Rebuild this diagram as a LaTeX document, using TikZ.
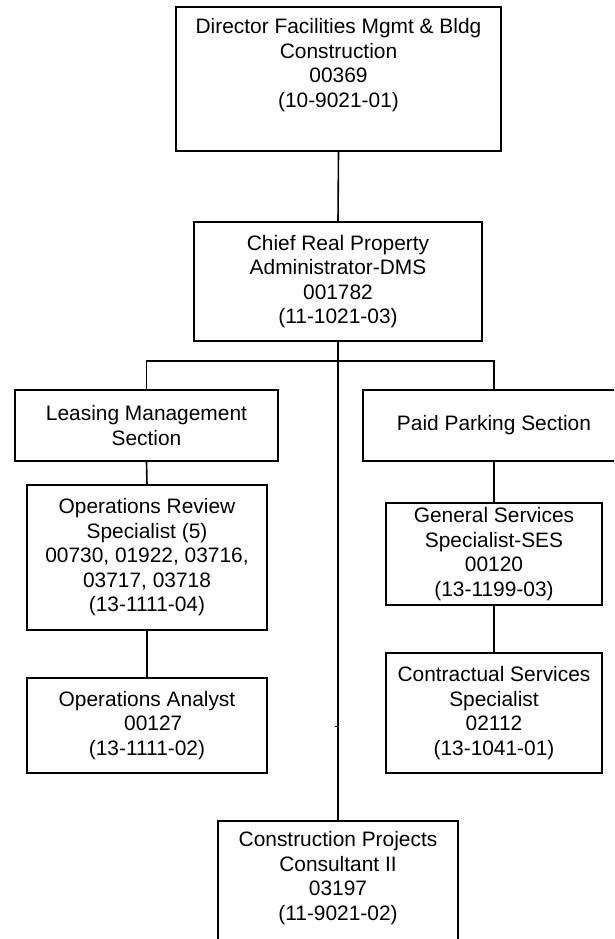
\documentclass[tikz,border=0pt]{standalone}
\usepackage{fontspec}
\setmainfont{Liberation Sans}
\begin{document}
\begin{tikzpicture}[x=1pt,y=-1pt,
  orgbox/.style={draw, line width=1.6pt, inner sep=0pt, align=center,
    font=\fontsize{20.9}{24.5}\selectfont},
  link/.style={line width=1.6pt}]
\useasboundingbox (0,0) rectangle (614,939);
\clip (0,0) rectangle (614,939);
\fill[white] (0,0) rectangle (614,939);

% positions
\node[orgbox, minimum width=325, minimum height=144] (dir) at (338.5,79)
  {Director Facilities Mgmt \& Bldg\\Construction\\00369\\(10-9021-01)\\\strut};
\node[orgbox, minimum width=288, minimum height=119] (chief) at (338,281.5)
  {Chief Real Property\\Administrator-DMS\\001782\\(11-1021-03)};
\node[orgbox, minimum width=263, minimum height=71] (lease) at (146.5,425.5)
  {Leasing Management\\Section};
\node[orgbox, minimum width=262, minimum height=71] (paid) at (494,425.5)
  {Paid Parking Section};
\node[orgbox, minimum width=240, minimum height=145] (opsrev) at (147,557.5)
  {Operations Review\\Specialist (5)\\00730, 01922, 03716,\\03717, 03718\\(13-1111-04)};
\node[orgbox, minimum width=240, minimum height=95] (analyst) at (147,725.5)
  {Operations Analyst\\\hspace*{0.6em}00127\\(13-1111-02)};
\node[orgbox, minimum width=216, minimum height=102] (gss) at (494,554)
  {General Services\\Specialist-SES\\00120\\(13-1199-03)};
\node[orgbox, minimum width=216, minimum height=120] (css) at (494,713)
  {Contractual Services\\Specialist\\02112\\(13-1041-01)};
\node[orgbox, minimum width=240, minimum height=142] (cons) at (338,892)
  {Construction Projects\\Consultant II\\03197\\(11-9021-02)\\\strut};

\coordinate (bus) at (338,361);
\coordinate (tick) at (335,726);

% connectors
\draw[link] (dir.south) -- (chief.north);
\draw[link] (chief.south) -- (cons.north);
\draw[link] (lease.north) |- (bus) -| (paid.north);
\draw[link] (lease.south) -- (opsrev.north);
\draw[link] (opsrev.south) -- (analyst.north);
\draw[link] (paid.south) -- (gss.north);
\draw[link] (gss.south) -- (css.north);
\draw[line width=1pt] (tick) -- (tick -| cons.north);
\end{tikzpicture}
\end{document}
